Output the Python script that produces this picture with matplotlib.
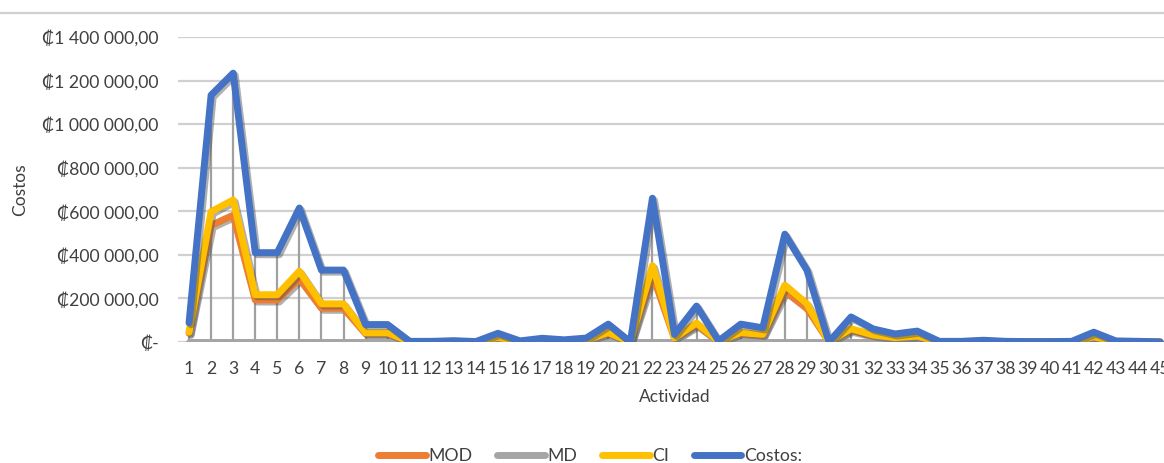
import numpy as np
import matplotlib
matplotlib.use("Agg")
import matplotlib.pyplot as plt
import matplotlib.patheffects as pe
from matplotlib.lines import Line2D
from matplotlib.ticker import FuncFormatter

plt.rcParams['font.family'] = ['Lato', 'DejaVu Sans']

actividad = list(range(1, 46))

mod = [40000, 535000, 582000, 193000, 193000, 290000, 155000, 155000, 38000, 38000,
       1400, 1400, 2800, 900, 19000, 2300, 8000, 4700, 8500, 39000,
       0, 310000, 16000, 78000, 2300, 39000, 30000, 234000, 155000, 0,
       54000, 28000, 17000, 23000, 1400, 1400, 3700, 1400, 900, 900,
       1400, 21000, 2300, 1400, 500]
md = [0] * 45
ci = [45000, 598000, 652000, 217000, 217000, 325000, 175000, 175000, 42000, 42000,
      1600, 1600, 3200, 1100, 21000, 2700, 9000, 5300, 9500, 43000,
      0, 350000, 19000, 87000, 2700, 43000, 35000, 261000, 175000, 0,
      61000, 32000, 20000, 27000, 1600, 1600, 4300, 1600, 1100, 1100,
      1600, 24000, 2700, 1600, 500]
costos = [88000, 1133000, 1234000, 410000, 410000, 615000, 330000, 330000, 80000, 80000,
          3000, 3000, 6000, 2000, 40000, 5000, 17000, 10000, 18000, 82000,
          0, 660000, 35000, 165000, 5000, 82000, 65000, 495000, 330000, 0,
          115000, 60000, 37000, 50000, 3000, 3000, 8000, 3000, 2000, 2000,
          3000, 45000, 5000, 3000, 1000]

series = [("MOD", mod, "#ED7D31"), ("MD", md, "#A5A5A5"),
          ("CI", ci, "#FFC000"), ("Costos:", costos, "#4472C4")]

fig = plt.figure(figsize=(11.64, 4.63), dpi=100)
ax = fig.add_axes([178 / 1164, 121 / 463, 993 / 1164, 305 / 463])

# drop lines from the axis up to the highest series
top = np.max([mod, md, ci, costos], axis=0)
ax.vlines(actividad, 0, top, color="#A0A0A0", lw=1.6, zorder=2)

shadow = [pe.SimpleLineShadow(offset=(1.5, -1.5), shadow_color="#505050", alpha=0.45),
          pe.Normal()]
for name, vals, col in series:
    ax.plot(actividad, vals, color=col, lw=5, label=name, solid_joinstyle="round",
            solid_capstyle="round", zorder=3, path_effects=shadow)

ax.set_xlim(0.5, 45.5)
ax.set_ylim(0, 1400000)
ax.set_yticks(np.arange(0, 1400001, 200000))
ax.set_xticks(actividad)


def colones(v, pos):
    if v == 0:
        return "₡-"
    s = f"{v:,.2f}".replace(",", " ").replace(".", ",")
    return "₡" + s


ax.yaxis.set_major_formatter(FuncFormatter(colones))
ax.grid(axis="y", color="#D0D0D0", lw=1.6)
ax.set_axisbelow(True)
for sp in ax.spines.values():
    sp.set_visible(False)
ax.tick_params(axis="both", length=0, labelsize=12.7, colors="#404040")
ax.tick_params(axis="y", pad=14)
ax.tick_params(axis="x", pad=14)

ax.set_xlabel("Actividad", fontsize=12.5, color="#404040", labelpad=8)
ax.set_ylabel("Costos", fontsize=12.5, color="#404040")
ax.yaxis.set_label_coords((28 - 178) / 993, 0.5)

# thin border line above the plot
fig.add_artist(Line2D([0, 1], [1 - 13 / 463, 1 - 13 / 463], color="#D0D0D0", lw=1.6))

leg = fig.legend(loc="center", bbox_to_anchor=(590 / 1164, 1 - 456 / 463), ncol=4,
                 frameon=False, fontsize=12.7, handlelength=2.7, handletextpad=0.15,
                 columnspacing=1.4)
for t in leg.get_texts():
    t.set_color("#404040")
for h in leg.get_lines():
    h.set_path_effects([])
    h.set_linewidth(5)

fig.savefig("out.png", dpi=100)
